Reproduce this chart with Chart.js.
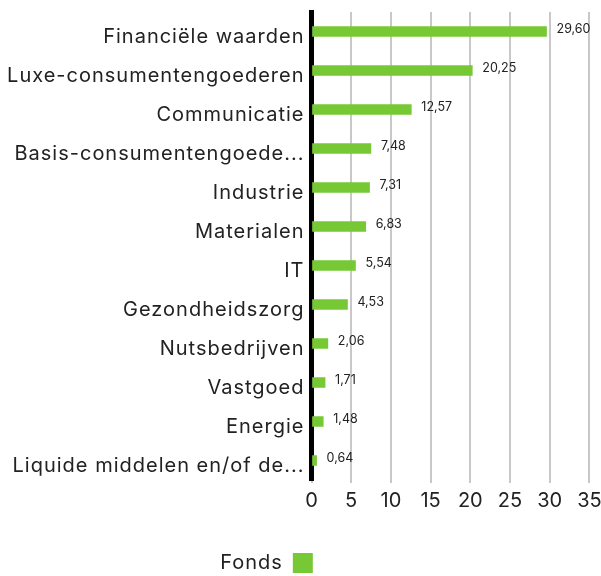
<!DOCTYPE html>
<html>
<head>
<meta charset="utf-8">
<script src="https://cdn.jsdelivr.net/npm/chart.js@4/dist/chart.umd.min.js"></script>
<style>
html,body{margin:0;padding:0;background:#fff;}
#wrap{width:601px;height:576px;}
</style>
</head>
<body>
<div id="wrap"><canvas id="c" width="601" height="576"></canvas></div>
<script>
const categories = ["Financiële waarden","Luxe-consumentengoederen","Communicatie","Basis-consumentengoede...","Industrie","Materialen","IT","Gezondheidszorg","Nutsbedrijven","Vastgoed","Energie","Liquide middelen en/of de..."];
const fondsValues = [29.60,20.25,12.57,7.48,7.31,6.83,5.54,4.53,2.06,1.71,1.48,0.64];
const xTickMin = 0, xTickMax = 35, xTickStep = 5;
const seriesName = "Fonds";

const FONT = "Inter, 'Noto Sans', sans-serif";
const GREEN = "#76c935";
const SPACING = '1px';

const spacingPlugin = {
  id: 'spacing',
  beforeUpdate(chart) { chart.ctx.letterSpacing = SPACING; },
  beforeDraw(chart) { chart.ctx.letterSpacing = SPACING; },
  afterLayout(chart) {
    const xs = chart.scales.x;
    if (xs && !xs._noSpacing) {
      const orig = xs.drawLabels;
      xs.drawLabels = function (area) {
        const c = this.ctx;
        const prev = c.letterSpacing;
        c.letterSpacing = '0px';
        orig.call(this, area);
        c.letterSpacing = prev;
      };
      xs._noSpacing = true;
    }
    const l = chart.legend;
    if (l) { l.left -= 34; l.right -= 34; l.top += 7; l.bottom += 7; }
  }
};

const valueLabels = {
  id: 'valueLabels',
  afterDatasetsDraw(chart) {
    const ctx = chart.ctx;
    const meta = chart.getDatasetMeta(0);
    ctx.save();
    ctx.letterSpacing = '0px';
    ctx.font = "12.5px " + FONT;
    ctx.fillStyle = "#222";
    ctx.textAlign = "left";
    ctx.textBaseline = "middle";
    meta.data.forEach((bar, i) => {
      const v = chart.data.datasets[0].data[i];
      ctx.fillText(v.toFixed(2).replace('.', ','), bar.x + 10, bar.y - 2);
    });
    ctx.restore();
  }
};

new Chart(document.getElementById('c'), {
  type: 'bar',
  data: {
    labels: categories,
    datasets: [{
      label: seriesName,
      data: fondsValues,
      backgroundColor: GREEN,
      borderWidth: 0,
      barThickness: 10
    }]
  },
  options: {
    indexAxis: 'y',
    responsive: false,
    animation: false,
    devicePixelRatio: 1,
    layout: { padding: { top: 12, right: 0, left: 0, bottom: 0 } },
    plugins: {
      legend: {
        position: 'bottom',
        rtl: true,
        labels: {
          font: { family: FONT, size: 20 },
          color: '#222',
          boxWidth: 20,
          boxHeight: 20,
          padding: 17
        },
        onClick: null
      },
      tooltip: { enabled: false }
    },
    scales: {
      x: {
        min: xTickMin,
        max: xTickMax,
        afterFit: (scale) => { scale.height = 49; scale.paddingLeft = 0; scale.paddingRight = 11.6; },
        ticks: {
          stepSize: xTickStep,
          font: { family: FONT, size: 20 },
          color: '#222',
          padding: 6,
          maxRotation: 0
        },
        grid: { color: '#c8c8c8', lineWidth: 2, drawTicks: true, tickLength: 3 },
        border: { display: false }
      },
      y: {
        afterFit: (scale) => { scale.width = 311.5; scale.paddingTop = 0; scale.paddingBottom = 0; },
        ticks: {
          font: { family: FONT, size: 20 },
          color: '#222',
          padding: 7,
          labelOffset: 5
        },
        grid: { display: false, drawTicks: false },
        border: { display: true, color: '#000', width: 5 }
      }
    }
  },
  plugins: [spacingPlugin, valueLabels]
});
</script>
</body>
</html>
